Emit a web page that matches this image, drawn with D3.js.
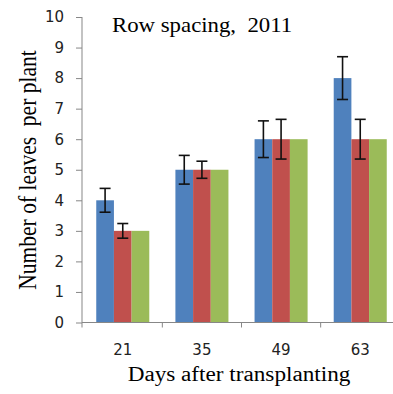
<!DOCTYPE html>
<html>
<head>
<meta charset="utf-8">
<script src="https://cdn.jsdelivr.net/npm/d3@7"></script>
<style>
  body { margin: 0; background: #fff; }
  svg { display: block; }
</style>
</head>
<body>
<div id="chart"></div>
<script>
// data
var days = ["21", "35", "49", "63"];
var series = ["s1", "s2", "s3"];
var colors = ["#4f81bd", "#c0504d", "#9bbb59"];
var s1Values = [4, 5, 6, 8];
var s2Values = [3, 5, 6, 6];
var s3Values = [3, 5, 6, 6];
var s1Err = [0.39, 0.47, 0.6, 0.7];
var s2Err = [0.24, 0.28, 0.65, 0.65];
var s3Err = [0, 0, 0, 0];
var yTicks = [0, 1, 2, 3, 4, 5, 6, 7, 8, 9, 10];

var values = [s1Values, s2Values, s3Values];
var errs = [s1Err, s2Err, s3Err];

var width = 393, height = 394;
var serif = "'Liberation Serif', 'Times New Roman', serif";
var sans = "'DejaVu Sans', Verdana, sans-serif";

var svg = d3.select("#chart").append("svg")
    .attr("width", width)
    .attr("height", height);

// scales
var yScale = d3.scaleLinear().domain([0, 10]).range([322.5, 17]);
var xScale = d3.scaleBand().domain(days).range([82, 401])
    .paddingInner(0.33).paddingOuter(0.18);
var xInner = d3.scaleBand().domain(d3.range(series.length))
    .range([0, xScale.bandwidth()]);

// build rows
var rows = [];
days.forEach(function(d, i) {
  series.forEach(function(s, j) {
    rows.push({day: d, k: j, value: values[j][i], err: errs[j][i]});
  });
});

// bars
svg.append("g").selectAll("rect")
    .data(rows)
    .enter().append("rect")
    .attr("x", function(d) { return xScale(d.day) + xInner(d.k); })
    .attr("y", function(d) { return yScale(d.value); })
    .attr("width", xInner.bandwidth())
    .attr("height", function(d) { return yScale(0) - yScale(d.value); })
    .style("fill", function(d) { return colors[d.k]; });

// error bars
var eb = svg.append("g").selectAll("g")
    .data(rows.filter(function(d) { return d.err > 0; }))
    .enter().append("g")
    .attr("stroke", "#111")
    .attr("stroke-width", 1.6);

var cx = function(d) { return xScale(d.day) + xInner(d.k) + xInner.bandwidth() / 2; };
eb.append("line")
    .attr("x1", cx).attr("x2", cx)
    .attr("y1", function(d) { return yScale(d.value + d.err); })
    .attr("y2", function(d) { return yScale(d.value - d.err); });
eb.append("line")
    .attr("x1", function(d) { return cx(d) - 5.5; })
    .attr("x2", function(d) { return cx(d) + 5.5; })
    .attr("y1", function(d) { return yScale(d.value + d.err); })
    .attr("y2", function(d) { return yScale(d.value + d.err); });
eb.append("line")
    .attr("x1", function(d) { return cx(d) - 5.5; })
    .attr("x2", function(d) { return cx(d) + 5.5; })
    .attr("y1", function(d) { return yScale(d.value - d.err); })
    .attr("y2", function(d) { return yScale(d.value - d.err); });

// y axis
var yAxis = d3.axisLeft(yScale).tickValues(yTicks)
    .tickSize(6).tickSizeOuter(0).tickPadding(12)
    .tickFormat(d3.format("d"));
var gy = svg.append("g")
    .attr("transform", "translate(82,0)")
    .call(yAxis);
gy.select(".domain").remove();
gy.append("line")
    .attr("x1", 0).attr("x2", 0)
    .attr("y1", yScale(10)).attr("y2", yScale(0) + 5)
    .attr("stroke", "#878787");
gy.selectAll(".tick line").attr("stroke", "#878787");
gy.selectAll(".tick text")
    .style("font-family", sans)
    .style("font-size", "15px")
    .attr("fill", "#222");

// x axis
var xAxis = d3.axisBottom(xScale).tickSize(0).tickPadding(22);
var gx = svg.append("g")
    .attr("transform", "translate(0," + yScale(0) + ")")
    .call(xAxis);
gx.select(".domain").remove();
gx.append("line")
    .attr("x1", 82).attr("x2", 401)
    .attr("y1", 0).attr("y2", 0)
    .attr("stroke", "#878787");
var step = xScale.step();
var boundary = function(d) { return xScale(d) + xScale.bandwidth() + step * xScale.paddingInner() / 2; };
gx.selectAll(".boundary")
    .data(days)
    .enter().append("line")
    .attr("class", "boundary")
    .attr("x1", boundary)
    .attr("x2", boundary)
    .attr("y1", 0).attr("y2", 5)
    .attr("stroke", "#878787");
gx.selectAll(".tick text")
    .style("font-family", sans)
    .style("font-size", "15px")
    .attr("fill", "#222");

// title (the source picture is stretched sideways a bit)
svg.append("text")
    .attr("transform", "translate(112,32) scale(1.14,1)")
    .style("font-family", serif)
    .style("font-size", "20px")
    .style("white-space", "pre")
    .text("Row spacing,  2011");

// axis titles
svg.append("text")
    .attr("transform", "translate(239,381) scale(1.16,1)")
    .style("text-anchor", "middle")
    .style("font-family", serif)
    .style("font-size", "20px")
    .text("Days after transplanting");

svg.append("text")
    .attr("transform", "translate(36,170) scale(1.14,1) rotate(-90)")
    .style("text-anchor", "middle")
    .style("font-family", serif)
    .style("font-size", "21.5px")
    .style("white-space", "pre")
    .text("Number of leaves  per plant");
</script>
</body>
</html>
